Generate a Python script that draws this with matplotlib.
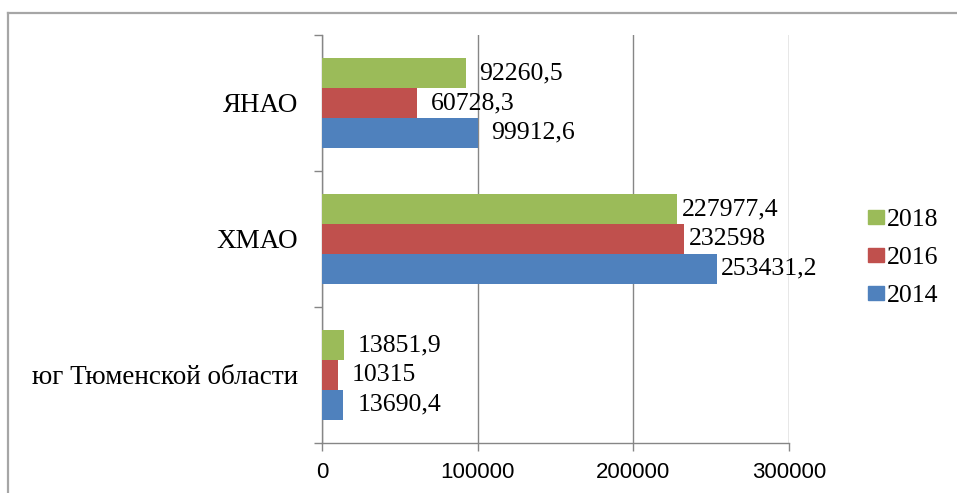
import matplotlib
matplotlib.use("Agg")
import matplotlib.pyplot as plt
from matplotlib.patches import Patch
from matplotlib.lines import Line2D
import numpy as np

categories = ["юг Тюменской области", "ХМАО", "ЯНАО"]
years = ["2014", "2016", "2018"]
values_2014 = [13690.4, 253431.2, 99912.6]
values_2016 = [10315, 232598, 60728.3]
values_2018 = [13851.9, 227977.4, 92260.5]
label_2014 = ["13690,4", "253431,2", "99912,6"]
label_2016 = ["10315", "232598", "60728,3"]
label_2018 = ["13851,9", "227977,4", "92260,5"]
x_ticks = [0, 100000, 200000, 300000]
x_ticklabels = ["0", "100000", "200000", "300000"]

colors = ["#4F81BD", "#C0504D", "#9BBB59"]
series = [values_2014, values_2016, values_2018]
labels = [label_2014, label_2016, label_2018]

W, H = 957, 493
fig = plt.figure(figsize=(W / 100, H / 100), dpi=100)
ax = fig.add_axes([322 / W, 50 / H, (789 - 322) / W, 408 / H])

serif = ["Liberation Serif", "DejaVu Serif"]
bh = 0.22
y = np.arange(len(categories))
offsets = [-bh, 0, bh]
label_dx = [10, 3.5, 10]  # points, per category
for vals, labs, col, off in zip(series, labels, colors, offsets):
    ax.barh(y + off, vals, height=bh, color=col, zorder=3)
    for i, (v, t) in enumerate(zip(vals, labs)):
        ax.annotate(t, xy=(v, y[i] + off), xytext=(label_dx[i], 0),
                    textcoords="offset points", ha="left", va="center",
                    fontsize=18.5, family=serif, zorder=5)

ax.set_xlim(0, 300000)
ax.set_ylim(-0.5, 2.5)
ax.set_xticks(x_ticks)
ax.set_xticklabels(x_ticklabels, fontsize=16, family=["Liberation Sans", "DejaVu Sans"])
ax.set_yticks([-0.5, 0.5, 1.5, 2.5])
ax.set_yticklabels([])
ax.set_yticks(y, minor=True)
ax.set_yticklabels(categories, minor=True, fontsize=19.5, family=serif)
ax.tick_params(axis="y", which="minor", length=0, pad=17)
ax.tick_params(axis="y", which="major", length=6, color="#868686", width=1)
ax.tick_params(axis="x", which="major", length=6, color="#868686", width=1, pad=8)

for s in ["top", "right"]:
    ax.spines[s].set_visible(False)
for s in ["left", "bottom"]:
    ax.spines[s].set_color("#868686")
    ax.spines[s].set_linewidth(1)
ax.grid(axis="x", color="#868686", linewidth=1, zorder=0)
ax.set_axisbelow(True)

handles = [Patch(color=c) for c in colors[::-1]]
fig.legend(handles, years[::-1], loc="center left",
           bbox_to_anchor=(868 / W, 1 - 258 / H), frameon=False,
           prop={"family": serif, "size": 18.5}, handlelength=0.62,
           handleheight=0.45, handletextpad=0.12, labelspacing=0.62,
           borderpad=0, borderaxespad=0)

# outer frame (left and top edges visible)
fig.add_artist(Line2D([8 / W, 8 / W], [0, 1 - 13 / H], transform=fig.transFigure,
                      color="#A6A6A6", linewidth=1.6))
fig.add_artist(Line2D([8 / W, 1], [1 - 13 / H, 1 - 13 / H], transform=fig.transFigure,
                      color="#A6A6A6", linewidth=1.6))

fig.savefig("out.png", dpi=100)
